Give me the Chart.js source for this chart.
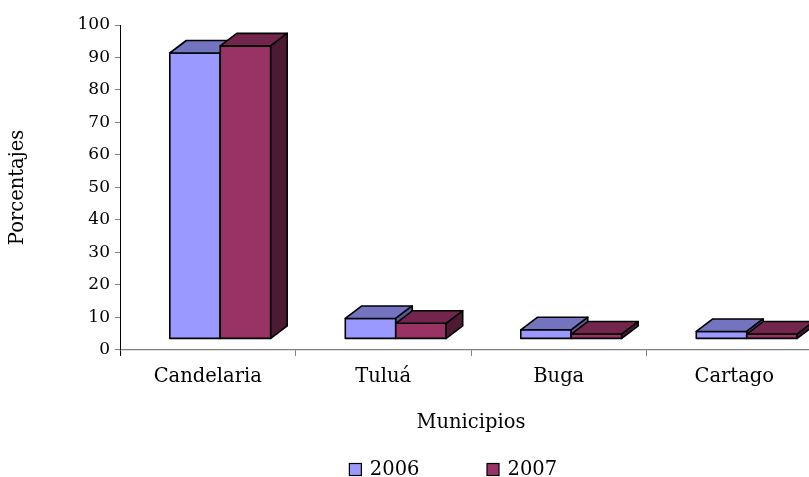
<!DOCTYPE html>
<html><head><meta charset="utf-8">
<script src="https://cdn.jsdelivr.net/npm/chart.js@4.4.1/dist/chart.umd.min.js"></script>
<style>
html,body{margin:0;padding:0;background:#fff;overflow:hidden}
#wrap{width:809px;height:477px;overflow:hidden;position:relative;background:#fff}
canvas{display:block}
</style>
</head><body><div id="wrap"><canvas id="c" width="840" height="477"></canvas></div>
<script>
// ---- data ----
const categories = ['Candelaria', 'Tuluá', 'Buga', 'Cartago'];
const seriesLabels = ['2006', '2007'];
const values2006 = [88.0, 6.3, 2.8, 2.3];
const values2007 = [90.2, 4.8, 1.5, 1.5];
const yMin = 0, yMax = 100, yStep = 10;
const xTitle = 'Municipios';
const yTitle = 'Porcentajes';

// ---- styles ----
const FONT = 'DejaVu Serif';
const frontColors = ['#9999FF', '#993366'];
const topColors = ['#7373BF', '#73264D'];
const sideColors = ['#5C5C99', '#4D1A33'];
const SHIFT_X = 12.5, SHIFT_Y = -11;   // floor offset of the 3D bars
const DEPTH_X = 16.5, DEPTH_Y = 12.5;  // bar depth

const bar3d = {
  id: 'bar3d',
  beforeDatasetsDraw(chart) {
    chart.ctx.save();
    chart.ctx.translate(SHIFT_X, SHIFT_Y);
  },
  afterDatasetsDraw(chart) {
    const ctx = chart.ctx;
    chart.data.datasets.forEach((ds, di) => {
      const meta = chart.getDatasetMeta(di);
      meta.data.forEach(bar => {
        const p = bar.getProps(['x', 'y', 'base', 'width'], true);
        const L = p.x - p.width / 2, R = p.x + p.width / 2;
        const T = Math.min(p.y, p.base), B = Math.max(p.y, p.base);
        ctx.lineWidth = 1.6;
        ctx.strokeStyle = '#000';
        ctx.lineJoin = 'round';
        // front
        ctx.beginPath();
        ctx.rect(L, T, R - L, B - T);
        ctx.fillStyle = frontColors[di];
        ctx.fill(); ctx.stroke();
        // top
        ctx.beginPath();
        ctx.moveTo(L, T);
        ctx.lineTo(L + DEPTH_X, T - DEPTH_Y);
        ctx.lineTo(R + DEPTH_X, T - DEPTH_Y);
        ctx.lineTo(R, T);
        ctx.closePath();
        ctx.fillStyle = topColors[di];
        ctx.fill(); ctx.stroke();
        // side
        ctx.beginPath();
        ctx.moveTo(R, T);
        ctx.lineTo(R + DEPTH_X, T - DEPTH_Y);
        ctx.lineTo(R + DEPTH_X, B - DEPTH_Y);
        ctx.lineTo(R, B);
        ctx.closePath();
        ctx.fillStyle = sideColors[di];
        ctx.fill(); ctx.stroke();
      });
    });
    ctx.restore();
  }
};

const legendPlugin = {
  id: 'customLegend',
  afterDraw(chart) {
    const ctx = chart.ctx;
    const box = 12, gapText = 9, gapItem = 67, baseY = 475;
    ctx.save();
    ctx.font = '19.5px "' + FONT + '"';
    ctx.textBaseline = 'alphabetic';
    ctx.textAlign = 'left';
    const widths = chart.data.datasets.map(d => box + gapText + ctx.measureText(d.label).width);
    const total = widths.reduce((a, b) => a + b, 0) + gapItem * (widths.length - 1);
    const center = (chart.chartArea.left + chart.chartArea.right) / 2 - 18;
    let x = center - total / 2;
    chart.data.datasets.forEach((d, i) => {
      ctx.fillStyle = frontColors[i];
      ctx.fillRect(x + 0.5, baseY - box + 0.5, box, box);
      ctx.strokeStyle = '#000';
      ctx.lineWidth = 1.2;
      ctx.strokeRect(x + 0.5, baseY - box + 0.5, box, box);
      ctx.fillStyle = '#000';
      ctx.fillText(d.label, x + box + gapText, baseY);
      x += widths[i] + gapItem;
    });
    ctx.restore();
  }
};

new Chart(document.getElementById('c'), {
  type: 'bar',
  data: {
    labels: categories,
    datasets: [
      { label: seriesLabels[0], data: values2006, backgroundColor: frontColors[0], borderWidth: 0, clip: false },
      { label: seriesLabels[1], data: values2007, backgroundColor: frontColors[1], borderWidth: 0, clip: false }
    ]
  },
  options: {
    responsive: false,
    animation: false,
    events: [],
    devicePixelRatio: 1,
    layout: { padding: { left: 0, right: 18, top: 25, bottom: 42.6 } },
    datasets: { bar: { categoryPercentage: 0.575, barPercentage: 1.0 } },
    plugins: { legend: { display: false }, tooltip: { enabled: false } },
    scales: {
      x: {
        offset: true,
        grid: {
          offset: true, drawOnChartArea: false, tickLength: 6,
          color: c => c.index === 0 ? '#000' : '#808080', lineWidth: 1
        },
        border: { color: '#808080', width: 1.2 },
        ticks: { color: '#000', padding: 9.6, font: { family: FONT, size: 19.5 } },
        title: { display: true, text: xTitle, color: '#000', font: { family: FONT, size: 19.5 }, padding: { top: 12.5, bottom: 0 } }
      },
      y: {
        min: yMin, max: yMax,
        afterFit: s => { s.width = 120; },
        grid: { drawOnChartArea: false, tickLength: 5, color: '#808080' },
        border: { color: '#000', width: 1 },
        ticks: { stepSize: yStep, color: '#000', padding: 5, font: { family: FONT, size: 17 } },
        title: { display: true, text: yTitle, color: '#000', font: { family: FONT, size: 19.5 }, padding: { top: 6.3, bottom: 0 } }
      }
    }
  },
  plugins: [bar3d, legendPlugin]
});
</script>
</body></html>
